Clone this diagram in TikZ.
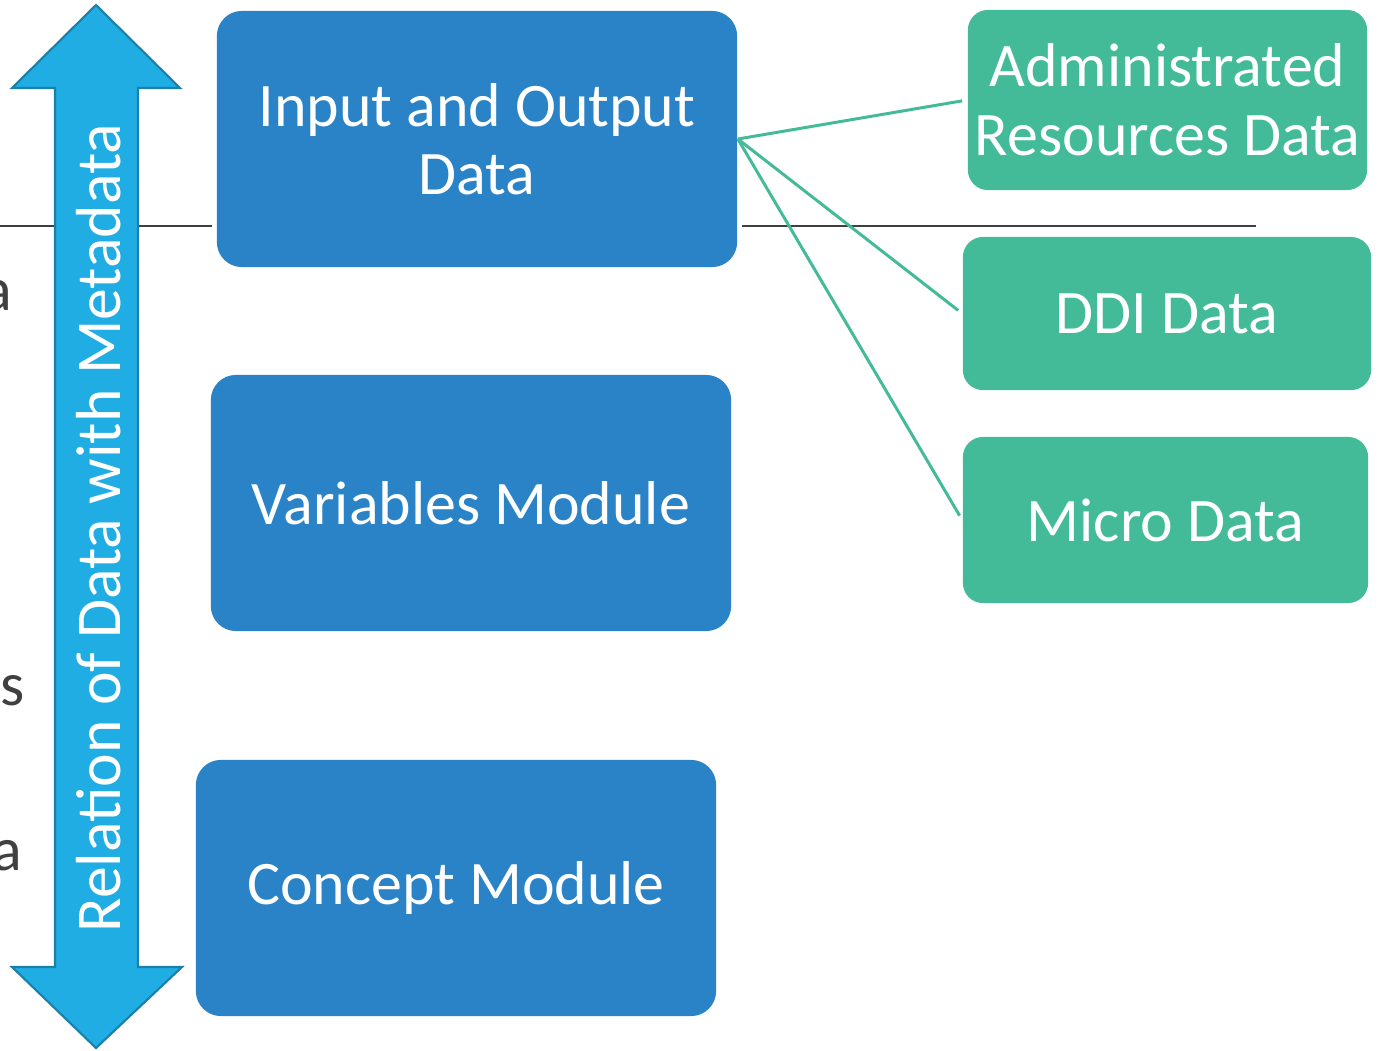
\documentclass[tikz,border=0pt]{standalone}
\usepackage{fontspec}
\setmainfont{Carlito}
\usepackage{xcolor}
\definecolor{modblue}{HTML}{2A83C7}
\definecolor{datagreen}{HTML}{44BB98}
\definecolor{arrowcyan}{HTML}{1FADE4}
\definecolor{arrowedge}{HTML}{1B7FA8}
\definecolor{rulegray}{HTML}{404040}

\begin{document}
\begin{tikzpicture}[
    x=0.01cm, y=-0.01cm,
    module/.style={fill=modblue, rounded corners=0.25cm, minimum width=5.2cm, minimum height=2.56cm,
                   text=white, align=center, font=\fontsize{17.6}{19.4}\selectfont, inner sep=0pt},
    databox/.style={fill=datagreen, rounded corners=0.2cm,
                    text=white, align=center, font=\fontsize{17.6}{19.6}\selectfont, inner sep=0pt},
    link/.style={draw=datagreen, line width=0.85pt, shorten >=0.05cm},
    rule/.style={draw=rulegray, line width=0.7pt},
    cut/.style={font=\fontsize{17.6}{19.4}\selectfont, text=rulegray, inner sep=0pt, anchor=base east},
  ]
  \useasboundingbox (0,0) rectangle (1381,1051);

  % Clipped text at the left edge
  \node[cut] (cuta) at (13,310) {a};
  \node[cut] (cutis) at (25,705) {is};
  \node[cut] (cutb) at (23,870) {a};

  % Separator
  \coordinate (ruleL) at (0,226);
  \coordinate (ruleM) at (212,226);
  \coordinate (ruleN) at (742,226);
  \coordinate (ruleR) at (1256,226);
  \draw[rule] (ruleL) -- (ruleM);
  \draw[rule] (ruleN) -- (ruleR);

  % Relation arrow
  \draw[fill=arrowcyan, draw=arrowedge, line width=0.6pt, line join=miter]
    (96,5) -- (180,88) -- (138,88) -- (138,967) -- (182,967) -- (96,1048)
    -- (12,967) -- (55,967) -- (55,88) -- (12,88) -- cycle;
  \node[rotate=90, text=white, font=\fontsize{18.1}{20}\selectfont, inner sep=0pt] (relation)
    at (99,528) {Relation of Data with Metadata};

  % Modules
  \node[module] (io) at (477,139) {Input and Output\\Data};
  \node[module] (vars) at (471,503) {Variables Module};
  \node[module] (concept) at (456,888) {Concept Module};

  % Data kinds
  \node[databox, minimum width=3.99cm, minimum height=1.80cm] (admin) at (1167.5,100) {Administrated\\Resources Data};
  \node[databox, minimum width=4.08cm, minimum height=1.53cm] (ddi) at (1167,313.5) {DDI Data};
  \node[databox, minimum width=4.05cm, minimum height=1.66cm] (micro) at (1165.5,520) {Micro Data};

  % Links
  \draw[link] (io.east) -- (admin.west);
  \draw[link] (io.east) -- (ddi.west);
  \draw[link] (io.east) -- (micro.west);

\end{tikzpicture}
\end{document}
